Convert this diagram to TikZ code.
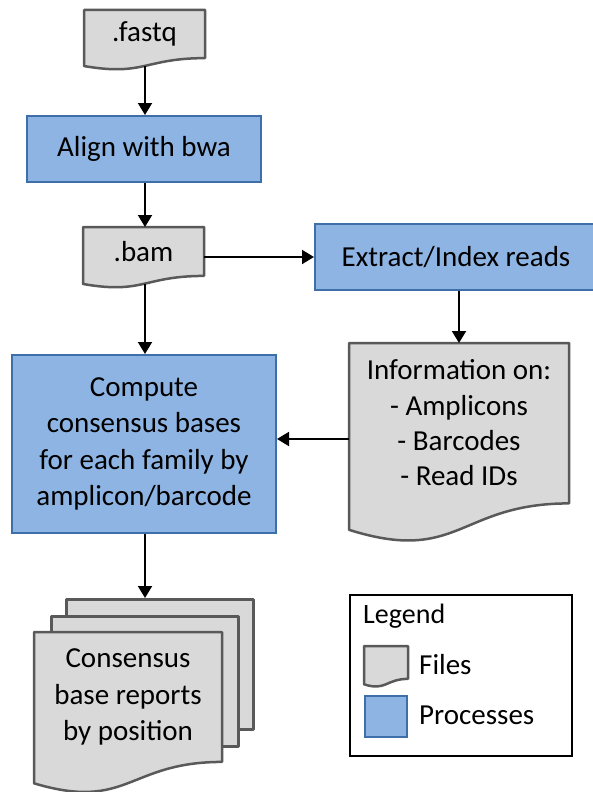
\documentclass[tikz,border=0pt]{standalone}
\usepackage{fontspec}
\setmainfont{Carlito}
\usetikzlibrary{arrows.meta}
\definecolor{filefill}{HTML}{D9D9D9}
\definecolor{fileline}{HTML}{595959}
\definecolor{procfill}{HTML}{8EB4E3}
\definecolor{procline}{HTML}{3F6FA8}
\tikzset{
  filedoc/.style={draw=fileline, fill=filefill, line width=2.5pt, line join=round},
  proc/.style={draw=procline, fill=procfill, line width=2pt, inner sep=0pt},
  txt/.style={inner sep=0pt},
  lbl/.style={inner sep=0pt, anchor=base west},
  arr/.style={line width=1.9pt, -{Triangle[length=12pt,width=14pt]}},
  every node/.style={font=\fontsize{29}{36.5}\selectfont}
}
% x, y (top-left), width, height
\newcommand\mydoc[4]{%
  \draw[filedoc] (#1,#2) -- ({#1+#3},#2) -- ({#1+#3},{#2+0.802*#4})
    .. controls ({#1+0.5*#3},{#2+0.802*#4}) and ({#1+0.5*#3},{#2+1.1075*#4}) ..
    (#1,{#2+0.934*#4}) -- cycle;}
\begin{document}
\begin{tikzpicture}[x=1pt,y=-1pt]
\useasboundingbox (0,0) rectangle (592,792);

% .fastq
\mydoc{84}{10}{121}{60}
\node[txt] (fastq) at (144.5,34) {.fastq};
\coordinate (fastq-b) at (145,66);

% Align
\node[proc, minimum width=234, minimum height=66] (align) at (144,149) {Align with bwa};

% .bam
\mydoc{83}{227}{121}{61}
\node[txt] (bam) at (143.5,251.5) {.bam};
\coordinate (bam-t) at (145,227);
\coordinate (bam-b) at (145,284);
\coordinate (bam-r) at (204,257);

% Extract
\node[proc, minimum width=282, minimum height=66] (extract) at (456,257) {Extract/Index reads};

% Info
\mydoc{349}{343}{220}{200}
\node[txt, align=center, font=\fontsize{29}{35.3}\selectfont] (info) at (459,423)
  {Information on:\\- Amplicons\\- Barcodes\\- Read IDs};
\coordinate (info-t) at (459,343);
\coordinate (info-l) at (349,439);

% Compute
\node[proc, align=center, minimum width=264, minimum height=178] (compute) at (144,444)
  {Compute\\consensus bases\\for each family by\\amplicon/barcode};

% Stacked reports
\node[filedoc, anchor=north west, minimum width=187, minimum height=130] (back2) at (65,598) {};
\node[filedoc, anchor=north west, minimum width=187, minimum height=130] (back1) at (50,615) {};
\mydoc{34}{632}{188}{162}
\node[txt, align=center] (report) at (128,697) {Consensus\\base reports\\by position};

% Connectors
\draw[arr] (fastq-b) -- (fastq-b |- align.north);
\draw[arr] (align.south -| bam-t) -- (bam-t);
\draw[arr] (bam-r) -- (bam-r -| extract.west);
\draw[arr] (extract.south -| info-t) -- (info-t);
\draw[arr] (info-l) -- (info-l -| compute.east);
\draw[arr] (bam-b) -- (bam-b |- compute.north);
\draw[arr] (compute.south -| bam-b) -- (bam-b |- back2.north);

% Legend
\node[draw=black, line width=1.5pt, minimum width=222, minimum height=161, anchor=north west] (legend) at (349,594) {};
\node[lbl, font=\fontsize{28}{34}\selectfont] (legtitle) at (363,623) {Legend};
\mydoc{364}{646}{44}{41}
\node[proc, minimum width=42, minimum height=41, anchor=north west] (legproc) at (364,695) {};
\node[lbl] (legfiles) at (419,674) {Files};
\node[lbl] (legprocs) at (419,724) {Processes};
\end{tikzpicture}
\end{document}
